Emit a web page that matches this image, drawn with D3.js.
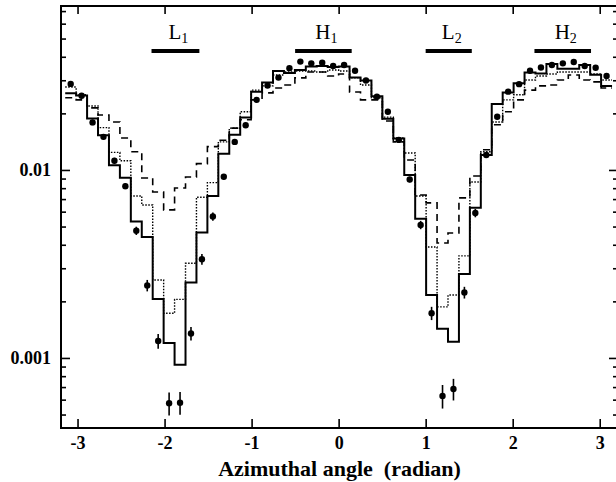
<!DOCTYPE html>
<html><head><meta charset="utf-8">
<script src="https://cdn.jsdelivr.net/npm/d3@7/dist/d3.min.js"></script>
<style>body{margin:0;background:#fff} svg{display:block}</style>
</head><body><svg id="c" width="616" height="482"></svg>
<script>
// ---- data (50 azimuthal bins from -pi to pi) ----
const nBins = 50;
const solid = [0.0256,0.0249,0.0188,0.0153,0.0106,0.0091,0.00532,0.0044,0.00206,0.0012,
  0.00092,0.00252,0.00465,0.00727,0.0122,0.0154,0.019,0.0261,0.0292,0.0336,
  0.0328,0.034,0.0355,0.0357,0.0353,0.0355,0.031,0.0299,0.0247,0.0187,
  0.0147,0.0094,0.0055,0.00216,0.00143,0.00122,0.0028,0.0063,0.012,0.0224,
  0.0258,0.0289,0.033,0.0326,0.0366,0.0345,0.0345,0.0362,0.0321,0.028];
const dotted = [0.0276,0.0251,0.0219,0.0168,0.0124,0.0112,0.00727,0.00651,0.0026,0.00173,
  0.00205,0.00319,0.00716,0.00856,0.0141,0.0167,0.0204,0.0266,0.028,0.032,
  0.0332,0.0336,0.0336,0.0332,0.034,0.0336,0.0309,0.0283,0.0242,0.0191,
  0.0148,0.0123,0.00727,0.00389,0.00187,0.00216,0.00349,0.00863,0.0125,0.018,
  0.0236,0.0251,0.0301,0.0316,0.0324,0.0332,0.0332,0.0332,0.0324,0.0301];
const dashed = [0.0242,0.0236,0.0214,0.0196,0.018,0.0148,0.0125,0.00907,0.00764,0.00613,
  0.00802,0.00918,0.0108,0.0133,0.0144,0.0167,0.0185,0.0236,0.0257,0.0273,
  0.0283,0.0309,0.0332,0.0332,0.0316,0.0324,0.026,0.0236,0.0236,0.0182,
  0.0141,0.0113,0.00736,0.00668,0.00409,0.00462,0.0071,0.00929,0.0128,0.0174,
  0.0204,0.0236,0.0266,0.028,0.0283,0.0301,0.032,0.0301,0.0294,0.0273];
const dataVal = [0.0287,0.0248,0.0179,0.015,0.0112,0.0082,0.00475,0.00243,0.00123,0.000574,
  0.000578,0.00135,0.00335,0.00565,0.0092,0.0141,0.0173,0.0236,0.0281,0.031,
  0.0348,0.0377,0.0369,0.0372,0.0357,0.0362,0.0337,0.0299,0.0245,0.0204,
  0.01445,0.0089,0.0051,0.00173,0.000628,0.000684,0.00223,0.0059,0.012,0.0192,
  0.0261,0.0286,0.0337,0.0351,0.0362,0.0369,0.0375,0.0357,0.035,0.0316];
const dataErr = [0.0009,0.0008,0.0006,0.0005,0.0004,0.0003,0.00024,0.00017,0.00011,0.00008,
  0.00008,0.00011,0.00022,0.00028,0.0003,0.0004,0.0005,0.0007,0.0008,0.0009,
  0.0009,0.001,0.001,0.001,0.001,0.001,0.0009,0.0008,0.0007,0.0006,
  0.0004,0.0003,0.00026,0.00014,0.00009,0.00009,0.00016,0.0003,0.0004,0.0006,
  0.0007,0.0008,0.0009,0.0009,0.001,0.001,0.001,0.001,0.0009,0.0009];
const regionName = ["L","H","L","H"];
const regionSub = ["1","1","2","2"];
const regionStart = [-2.15,-0.5,1.0,2.25];
const regionEnd = [-1.6,0.15,1.53,2.9];
const xTicks = [-3,-2,-1,0,1,2,3];
const xTickLabel = ["-3","-2","-1","0","1","2","3"];
const yMajor = [0.01, 0.001];
const yMajorLabel = ["0.01","0.001"];
const xTitle = "Azimuthal angle  (radian)";

// ---- layout ----
const svg = d3.select("#c");
const L = 61, R = 618, T = 6, B = 428;
const x = d3.scaleLinear().domain([-3.19, 3.21]).range([L, R]);
const y = d3.scaleLog().domain([0.000424, 0.0745]).range([B, T]);
const bw = 2*Math.PI/nBins;
const edge = i => -Math.PI + i*bw;
const center = i => -Math.PI + (i+0.5)*bw;
const serif = "'Liberation Serif','Times New Roman',serif";

// minor log ticks
const yMinor = [];
[0.0001,0.001,0.01].forEach(d => { for (let k=2;k<=9;k++){ const v=d*k; if (v>=y.domain()[0] && v<=y.domain()[1]) yMinor.push(v);} });

function styleAxis(g){ g.select(".domain").remove(); g.selectAll("line").attr("stroke","#000").attr("stroke-width",1.6); }

// bottom
svg.append("g").attr("transform",`translate(0,${B})`)
  .call(d3.axisBottom(x).tickValues(xTicks).tickSize(-9).tickSizeOuter(0).tickPadding(6).tickFormat((d,i)=>xTickLabel[i]))
  .call(styleAxis)
  .call(g=>g.selectAll("text").attr("font-family",serif).attr("font-weight","bold").attr("font-size",18).attr("fill","#000").attr("dy","0.85em"));
// top
svg.append("g").attr("transform",`translate(0,${T})`)
  .call(d3.axisTop(x).tickValues(xTicks).tickSize(-8).tickSizeOuter(0).tickFormat(""))
  .call(styleAxis);
// left major
svg.append("g").attr("transform",`translate(${L},0)`)
  .call(d3.axisLeft(y).tickValues(yMajor).tickSize(-9).tickSizeOuter(0).tickPadding(10).tickFormat((d,i)=>yMajorLabel[i]))
  .call(styleAxis)
  .call(g=>g.selectAll("text").attr("font-family",serif).attr("font-weight","bold").attr("font-size",18).attr("fill","#000"));
svg.append("g").attr("transform",`translate(${L},0)`)
  .call(d3.axisLeft(y).tickValues(yMinor).tickSize(-5).tickSizeOuter(0).tickFormat(""))
  .call(styleAxis);
// right
svg.append("g").attr("transform",`translate(${R},0)`)
  .call(d3.axisRight(y).tickValues(yMajor).tickSize(-9).tickSizeOuter(0).tickFormat(""))
  .call(styleAxis);
svg.append("g").attr("transform",`translate(${R},0)`)
  .call(d3.axisRight(y).tickValues(yMinor).tickSize(-5).tickSizeOuter(0).tickFormat(""))
  .call(styleAxis);
// frame
svg.append("rect").attr("x",L).attr("y",T).attr("width",R-L).attr("height",B-T)
  .attr("fill","none").attr("stroke","#000").attr("stroke-width",2);

// histograms
const line = d3.line().x(d=>x(d[0])).y(d=>y(d[1]));
function histPts(vals){ return vals.flatMap((v,i)=>[[edge(i),v],[edge(i+1),v]]); }
svg.append("path").attr("d",line(histPts(dashed))).attr("fill","none").attr("stroke","#000")
  .attr("stroke-width",1.6).attr("stroke-dasharray","7,5");
svg.append("path").attr("d",line(histPts(dotted))).attr("fill","none").attr("stroke","#000")
  .attr("stroke-width",1.4).attr("stroke-dasharray","1.5,1.5");
svg.append("path").attr("d",line(histPts(solid))).attr("fill","none").attr("stroke","#000")
  .attr("stroke-width",2);

// data points with error bars
const pts = svg.append("g");
pts.selectAll("line").data(dataVal).join("line")
  .attr("x1",(d,i)=>x(center(i))).attr("x2",(d,i)=>x(center(i)))
  .attr("y1",(d,i)=>y(d-dataErr[i])).attr("y2",(d,i)=>y(d+dataErr[i]))
  .attr("stroke","#000").attr("stroke-width",1.6);
pts.selectAll("circle").data(dataVal).join("circle")
  .attr("cx",(d,i)=>x(center(i))).attr("cy",d=>y(d)).attr("r",3.2).attr("fill","#000");

// region bars and labels
const barY = 51;
const reg = svg.append("g");
regionName.forEach((n,i)=>{
  reg.append("line").attr("x1",x(regionStart[i])).attr("x2",x(regionEnd[i]))
    .attr("y1",barY).attr("y2",barY).attr("stroke","#000").attr("stroke-width",4);
  const t = reg.append("text").attr("x",(x(regionStart[i])+x(regionEnd[i]))/2+3).attr("y",39)
    .attr("text-anchor","middle").attr("font-family",serif).attr("font-size",21).attr("fill","#000");
  t.append("tspan").text(n);
  t.append("tspan").attr("font-size",14).attr("dy",4).text(regionSub[i]);
});

// x title
svg.append("text").attr("x",(L+R)/2).attr("y",476).attr("text-anchor","middle")
  .attr("font-family",serif).attr("font-weight","bold").attr("font-size",22)
  .style("white-space","pre").attr("fill","#000").text(xTitle);
</script></body></html>
